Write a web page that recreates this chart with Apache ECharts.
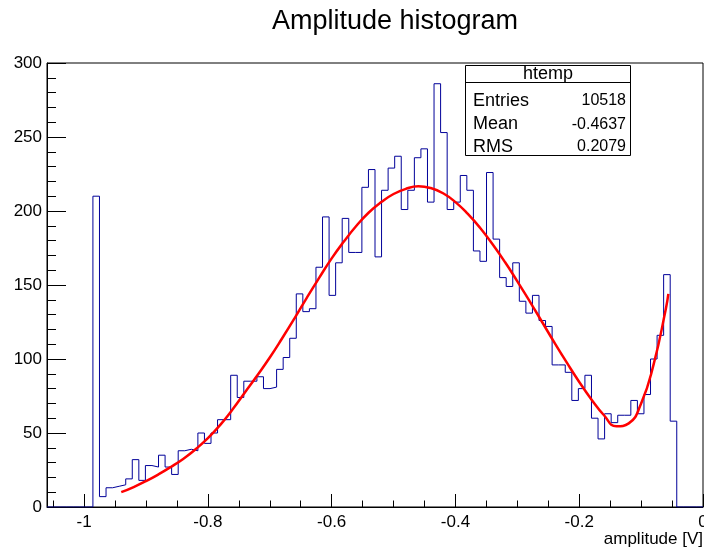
<!DOCTYPE html>
<html>
<head>
<meta charset="utf-8">
<script src="https://cdn.jsdelivr.net/npm/echarts@6/dist/echarts.min.js"></script>
<style>
html,body{margin:0;padding:0;background:#fff;}
#c{width:704px;height:548px;}
</style>
</head>
<body>
<div id="c"></div>
<script>
// Histogram definition
var xMin = -1.06;
var xMax = 0.0;
var nBins = 100;
var binCounts = [
  0, 0, 0, 0, 0, 0, 0, 210, 7, 13,
  14, 15, 19, 32, 18, 28, 27, 35, 27, 22,
  38, 39, 38, 50, 43, 50, 59, 59, 89, 74,
  85, 85, 88, 80, 81, 93, 101, 114, 144, 132,
  134, 162, 196, 143, 165, 195, 172, 172, 216, 228,
  169, 214, 229, 237, 201, 214, 236, 242, 206, 286,
  253, 201, 206, 224, 214, 173, 166, 226, 181, 155,
  149, 165, 139, 131, 143, 126, 122, 96, 96, 91,
  72, 80, 89, 60, 46, 63, 57, 62, 62, 72,
  63, 76, 100, 116, 157, 58, 0, 0, 0, 0
];
// Fit curve points
var fitX = [-0.94, -0.92, -0.90, -0.88, -0.86, -0.84, -0.82, -0.80, -0.78, -0.76,
            -0.74, -0.72, -0.70, -0.68, -0.66, -0.64, -0.62, -0.60, -0.58, -0.56,
            -0.54, -0.52, -0.50, -0.48, -0.46, -0.44, -0.42, -0.40, -0.38, -0.36,
            -0.34, -0.32, -0.30, -0.28, -0.26, -0.24, -0.22, -0.20, -0.18, -0.16,
            -0.14, -0.12, -0.10, -0.08, -0.06, -0.056];
var fitY = [10, 13.5, 17.5, 22, 27, 32.5, 39, 46.5, 55.5, 66,
            77.5, 89, 101, 114, 127.5, 141.5, 155, 168, 179.5, 190,
            199, 206, 211.5, 215, 216.7, 215.5, 212, 206, 198, 188.5,
            177.5, 165.5, 152.5, 139, 125, 111, 97.5, 84.5, 72.5, 62,
            54.5, 56.5, 70, 96, 134, 144];
// Axis ticks
var xMajorTicks = [-1, -0.8, -0.6, -0.4, -0.2, 0];
var xMinorTicks = [-1.05, -0.95, -0.9, -0.85, -0.75, -0.7, -0.65, -0.55, -0.5, -0.45,
                   -0.35, -0.3, -0.25, -0.15, -0.1, -0.05];
var yTicks = [0, 50, 100, 150, 200, 250, 300];
// Texts
var titleText = 'Amplitude histogram';
var xTitle = 'amplitude [V]';
var statsName = 'htemp';
var statsLabels = ['Entries', 'Mean', 'RMS'];
var statsValues = ['10518', '-0.4637', '0.2079'];

var binW = (xMax - xMin) / nBins;
var histData = [];
for (var i = 0; i < nBins; i++) {
  histData.push([xMin + i * binW, binCounts[i]]);
}
histData.push([xMax, 0]);
var fitData = fitX.map(function (x, k) { return [x, fitY[k]]; });

var FONT = 'Liberation Sans, Arial, Helvetica, sans-serif';
var chart = echarts.init(document.getElementById('c'), null, {renderer: 'canvas'});

var statsGraphics = [
  {type: 'rect', shape: {x: 465.5, y: 65.5, width: 165, height: 90},
   style: {fill: '#fff', stroke: '#000', lineWidth: 1}, z: 100},
  {type: 'line', shape: {x1: 465.5, y1: 82.5, x2: 630.5, y2: 82.5},
   style: {stroke: '#000', lineWidth: 1}, z: 101},
  {type: 'text', x: 548, y: 74, z: 102,
   style: {text: statsName, fontSize: 18, fontFamily: FONT, fill: '#000', align: 'center', verticalAlign: 'middle'}}
];
var rowY = [101, 124.5, 147];
for (var r = 0; r < statsLabels.length; r++) {
  statsGraphics.push({type: 'text', x: 473, y: rowY[r], z: 102,
    style: {text: statsLabels[r], fontSize: 18, fontFamily: FONT, fill: '#000', align: 'left', verticalAlign: 'middle'}});
  statsGraphics.push({type: 'text', x: 626, y: rowY[r], z: 102,
    style: {text: statsValues[r], fontSize: 16, fontFamily: FONT, fill: '#000', align: 'right', verticalAlign: 'middle'}});
}

var option = {
  animation: false,
  backgroundColor: '#fff',
  grid: {left: 47, right: 1, top: 63, bottom: 41, show: true, borderColor: '#000', borderWidth: 1,
         backgroundColor: 'transparent', outerBoundsMode: 'none', containLabel: false},
  xAxis: [{
    type: 'value', min: xMin, max: xMax, position: 'bottom',
    axisLine: {show: true, onZero: false, lineStyle: {color: '#000', width: 1}},
    axisTick: {show: true, inside: true, length: 13, customValues: xMajorTicks, lineStyle: {color: '#000'}},
    axisLabel: {show: true, customValues: xMajorTicks, fontSize: 17, fontFamily: FONT, color: '#000', margin: 7,
      showMinLabel: true, showMaxLabel: true},
    splitLine: {show: false}
  }, {
    type: 'value', min: xMin, max: xMax, position: 'bottom',
    axisLine: {show: false},
    axisTick: {show: true, inside: true, length: 6.5, customValues: xMinorTicks, lineStyle: {color: '#000'}},
    axisLabel: {show: false},
    splitLine: {show: false}
  }],
  yAxis: {
    type: 'value', min: 0, max: 300, interval: 50,
    axisLine: {show: true, onZero: false, lineStyle: {color: '#000', width: 1}},
    axisTick: {show: true, inside: true, length: 19, lineStyle: {color: '#000'}},
    minorTick: {show: true, splitNumber: 5, length: 9, lineStyle: {color: '#000'}},
    axisLabel: {fontSize: 17, fontFamily: FONT, color: '#000', margin: 5},
    splitLine: {show: false}
  },
  series: [{
    type: 'line', xAxisIndex: 0, data: histData, step: 'end', showSymbol: false, symbol: 'none',
    lineStyle: {color: '#000099', width: 1}, z: 3
  }, {
    type: 'line', xAxisIndex: 0, data: fitData, smooth: 0.5, showSymbol: false, symbol: 'none',
    lineStyle: {color: '#ff0000', width: 2.5}, z: 4
  }],
  graphic: [
    {type: 'text', x: 395, y: 22, z: 50,
     style: {text: titleText, fontSize: 27, fontFamily: FONT, fill: '#000', align: 'center', verticalAlign: 'middle'}},
    {type: 'text', x: 703, y: 539, z: 50,
     style: {text: xTitle, fontSize: 17, fontFamily: FONT, fill: '#000', align: 'right', verticalAlign: 'middle'}}
  ].concat(statsGraphics)
};
chart.setOption(option);
</script>
</body>
</html>
